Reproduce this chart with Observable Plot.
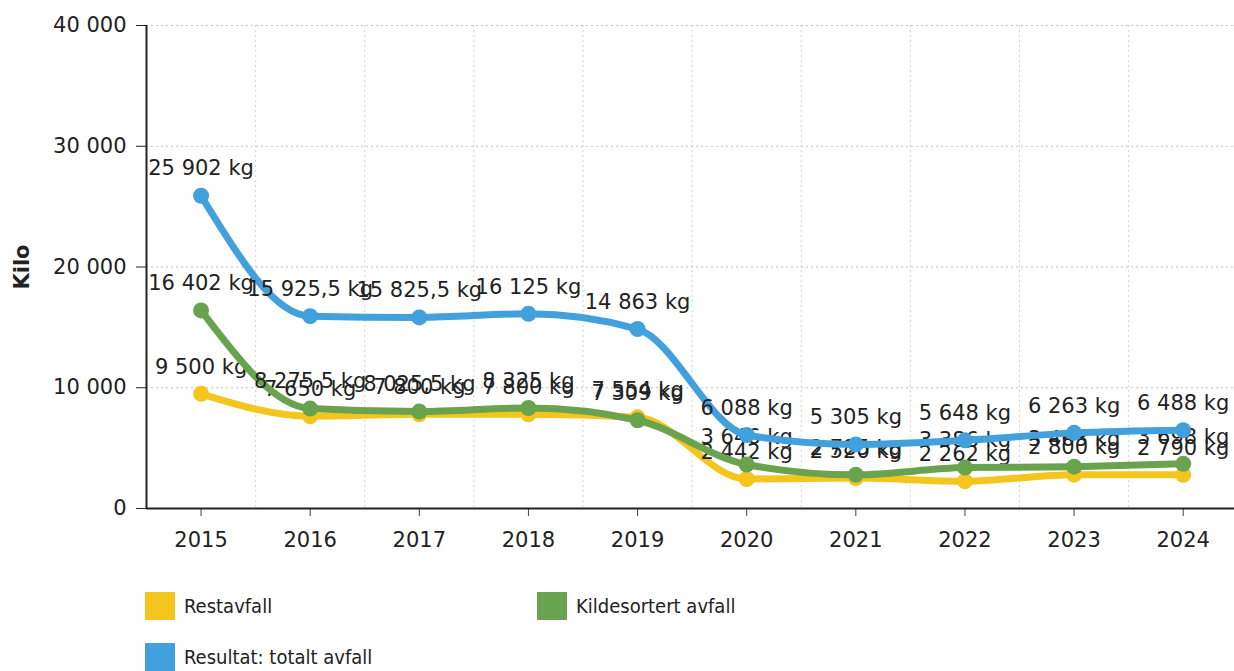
<!DOCTYPE html>
<html>
<head>
<meta charset="utf-8">
<script src="https://cdn.jsdelivr.net/npm/d3@7"></script>
<script src="https://cdn.jsdelivr.net/npm/@observablehq/plot@0.6"></script>
<style>
  body { margin: 0; background: #fff; font-family: "DejaVu Sans", sans-serif; }
  #chart svg [aria-label="y-axis label"] text { font-weight: bold; }
  .legend { display: grid; grid-template-columns: 392px auto; row-gap: 23px; padding-left: 145px; margin-top: 22px; }
  .item { display: flex; align-items: center; font-family: "DejaVu Sans Condensed", "DejaVu Sans", sans-serif; font-stretch: condensed; font-size: 20px; color: #222; height: 28px; }
  .sw { width: 30px; height: 28px; margin-right: 9px; }
</style>
</head>
<body>
<div id="chart"></div>
<div class="legend" id="legend"></div>
<script>
const years = [2015, 2016, 2017, 2018, 2019, 2020, 2021, 2022, 2023, 2024];
const restavfall = [9500, 7650, 7800, 7800, 7554, 2442, 2520, 2262, 2800, 2790];
const kildesortert = [16402, 8275.5, 8025.5, 8325, 7309, 3646, 2785, 3386, 3463, 3698];
const totalt = [25902, 15925.5, 15825.5, 16125, 14863, 6088, 5305, 5648, 6263, 6488];
const seriesNames = ["Restavfall", "Kildesortert avfall", "Resultat: totalt avfall"];
const seriesColors = ["#f4c51c", "#6aa350", "#42a0dc"];
const yTicks = [0, 10000, 20000, 30000, 40000];

const locale = d3.formatLocale({decimal: ",", thousands: "\u00a0", grouping: [3], currency: ["", ""]});
const fmtInt = locale.format(",d");
const fmtDec = locale.format(",.1f");
const fmt = v => Number.isInteger(v) ? fmtInt(v) : fmtDec(v);

const seriesValues = [restavfall, kildesortert, totalt];
const seriesMarks = [];
seriesValues.forEach((vals, i) => {
  const data = years.map((yr, j) => ({year: yr, value: vals[j]}));
  const c = seriesColors[i];
  seriesMarks.push(
    Plot.line(data, {x: "year", y: "value", curve: "monotone-x", stroke: c, strokeWidth: 7, strokeLinecap: "round"}),
    Plot.dot(data, {x: "year", y: "value", r: 8, fill: c, stroke: "none"}),
    Plot.text(data, {x: "year", y: "value", text: d => fmt(d.value) + " kg", dy: -27, fontSize: 21, fill: "#222"})
  );
});

const midpoints = years.slice(0, -1).map(y => y + 0.5);

const chart = Plot.plot({
  width: 1234,
  height: 570,
  marginLeft: 146,
  marginRight: 0,
  marginTop: 25,
  marginBottom: 62,
  style: {fontFamily: "DejaVu Sans, sans-serif", fontSize: "21px", color: "#222", background: "white"},
  x: {domain: [2014.5, 2024.47]},
  y: {domain: [0, 40000]},
  marks: [
    Plot.gridY(yTicks, {stroke: "#999", strokeOpacity: 0.6, strokeDasharray: "2,3"}),
    Plot.ruleX(midpoints, {stroke: "#aaa", strokeOpacity: 0.5, strokeDasharray: "2,3"}),
    Plot.axisX({ticks: years, tickFormat: d => String(d), tickSize: 8, tickPadding: 16, stroke: "#444", label: null}),
    Plot.axisY({ticks: yTicks, tickFormat: fmtInt, tickSize: 10, tickPadding: 10, stroke: "#222",
      label: "Kilo", labelAnchor: "center", labelArrow: "none", labelOffset: 132}),
    Plot.ruleY([0], {stroke: "#222", strokeWidth: 2}),
    Plot.ruleX([2014.5], {stroke: "#222", strokeWidth: 2}),
    ...seriesMarks
  ]
});
document.getElementById("chart").appendChild(chart);

const order = [0, 1, 2];
const legend = document.getElementById("legend");
order.forEach(i => {
  const it = document.createElement("div");
  it.className = "item";
  const sw = document.createElement("span");
  sw.className = "sw";
  sw.style.background = seriesColors[i];
  const tx = document.createElement("span");
  tx.textContent = seriesNames[i];
  it.appendChild(sw);
  it.appendChild(tx);
  legend.appendChild(it);
});
</script>
</body>
</html>
